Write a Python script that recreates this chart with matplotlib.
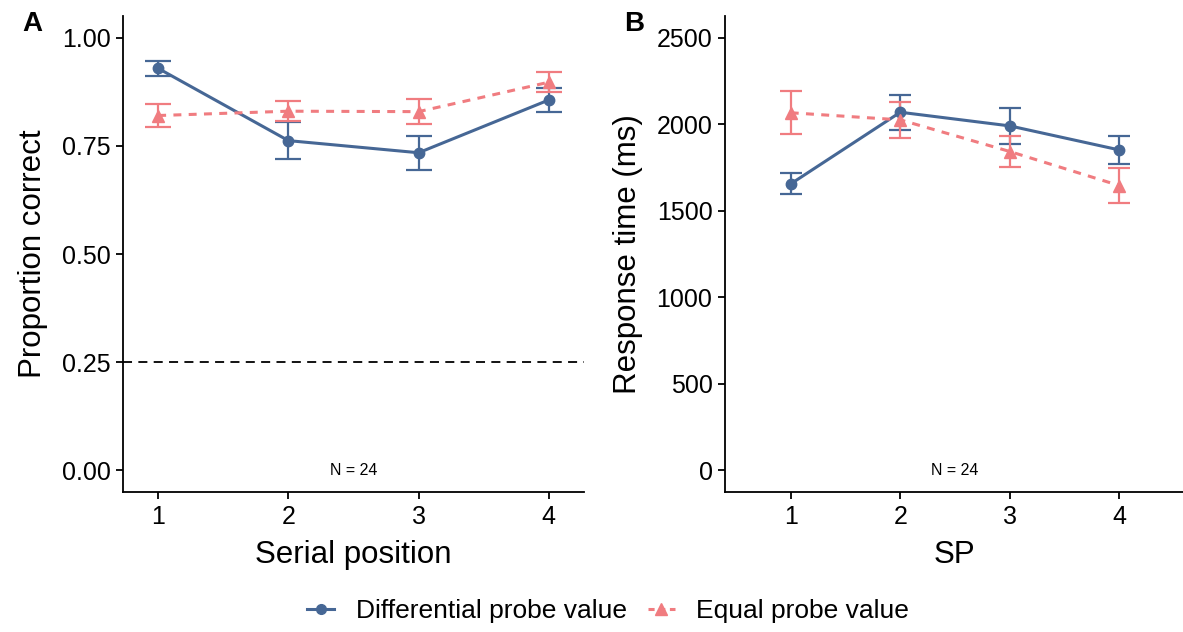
import matplotlib
matplotlib.use("Agg")
import matplotlib.pyplot as plt
from matplotlib.lines import Line2D
import numpy as np

plt.rcParams['font.family'] = ['Liberation Sans', 'DejaVu Sans']

# ---- data ----
serial_pos = [1, 2, 3, 4]
acc_diff = [0.929, 0.762, 0.734, 0.856]
acc_diff_se = [0.018, 0.042, 0.039, 0.028]
acc_equal = [0.820, 0.830, 0.829, 0.897]
acc_equal_se = [0.027, 0.023, 0.029, 0.023]
rt_diff = [1655, 2069, 1990, 1851]
rt_diff_se = [61, 100, 106, 80]
rt_equal = [2066, 2025, 1842, 1645]
rt_equal_se = [125, 105, 90, 100]
chance_level = 0.25
n_label = "N = 24"
series_names = ["Differential probe value", "Equal probe value"]

blue = '#466795'
pink = '#F07C80'

W, H = 1183, 632
fig = plt.figure(figsize=(W / 100, H / 100), dpi=100)

def axes_px(l, r, t, b):
    return fig.add_axes([l / W, 1 - b / H, (r - l) / W, (b - t) / H])

axA = axes_px(123, 584, 16, 492)
axB = axes_px(725, 1183, 16, 492)

def draw_series(ax, x, y, se, color, ls, marker, msize, capw):
    x = np.asarray(x, float); y = np.asarray(y, float); se = np.asarray(se, float)
    ax.vlines(x, y - se, y + se, color=color, lw=1.6, zorder=2)
    ax.hlines(y - se, x - capw, x + capw, color=color, lw=1.6, zorder=2)
    ax.hlines(y + se, x - capw, x + capw, color=color, lw=1.6, zorder=2)
    line, = ax.plot(x, y, color=color, lw=2.2, zorder=3)
    if ls == 'dashed':
        line.set_dashes((2.6, 2.4))
    ax.plot(x, y, ls='none', marker=marker, ms=msize, color=color, zorder=4)

def style(ax):
    for s in ['top', 'right']:
        ax.spines[s].set_visible(False)
    for s in ['left', 'bottom']:
        ax.spines[s].set_linewidth(1.3)
    ax.tick_params(axis='both', length=5, width=1.3, labelsize=18, color='black',
                   labelcolor='black', pad=4)

# Panel A
draw_series(axA, serial_pos, acc_diff, acc_diff_se, blue, 'solid', 'o', 7.5, 0.1)
draw_series(axA, serial_pos, acc_equal, acc_equal_se, pink, 'dashed', '^', 8.5, 0.1)
axA.axhline(chance_level, color='black', lw=1.3, dashes=(5, 3.5), zorder=1)
axA.set_xlim(0.73, 4.27)
axA.set_ylim(-0.05, 1.05)
axA.set_xticks(serial_pos)
axA.set_yticks([0, 0.25, 0.5, 0.75, 1.0])
axA.set_yticklabels(['0.00', '0.25', '0.50', '0.75', '1.00'])
axA.set_xlabel('Serial position', fontsize=22.5, labelpad=8)
axA.set_ylabel('Proportion correct', fontsize=22.5, labelpad=10)
axA.text(2.5, 0.0, n_label, ha='center', va='center', fontsize=11.5)
style(axA)

# Panel B
draw_series(axB, serial_pos, rt_diff, rt_diff_se, blue, 'solid', 'o', 7.5, 0.1)
draw_series(axB, serial_pos, rt_equal, rt_equal_se, pink, 'dashed', '^', 8.5, 0.1)
axB.set_xlim(0.4, 4.58)
axB.set_ylim(-125, 2625)
axB.set_xticks(serial_pos)
axB.set_yticks([0, 500, 1000, 1500, 2000, 2500])
axB.set_xlabel('SP', fontsize=22.5, labelpad=8)
axB.set_ylabel('Response time (ms)', fontsize=22.5, labelpad=10)
axB.text(2.5, 0, n_label, ha='center', va='center', fontsize=11.5)
style(axB)

fig.text(22 / W, 1 - 24 / H, 'A', fontsize=20, fontweight='bold', va='center', ha='left')
fig.text(624 / W, 1 - 24 / H, 'B', fontsize=20, fontweight='bold', va='center', ha='left')

h1 = Line2D([], [], color=blue, lw=2.2, marker='o', ms=7)
h2 = Line2D([], [], color=pink, lw=2.2, marker='^', ms=8, dashes=(2.0, 1.5))
fig.legend([h1, h2], series_names, loc='center', bbox_to_anchor=(608 / W, 1 - 611 / H),
           ncol=2, frameon=False, fontsize=19, handlelength=1.05, columnspacing=0.8,
           handletextpad=0.8)

fig.savefig('out.png', dpi=100)
